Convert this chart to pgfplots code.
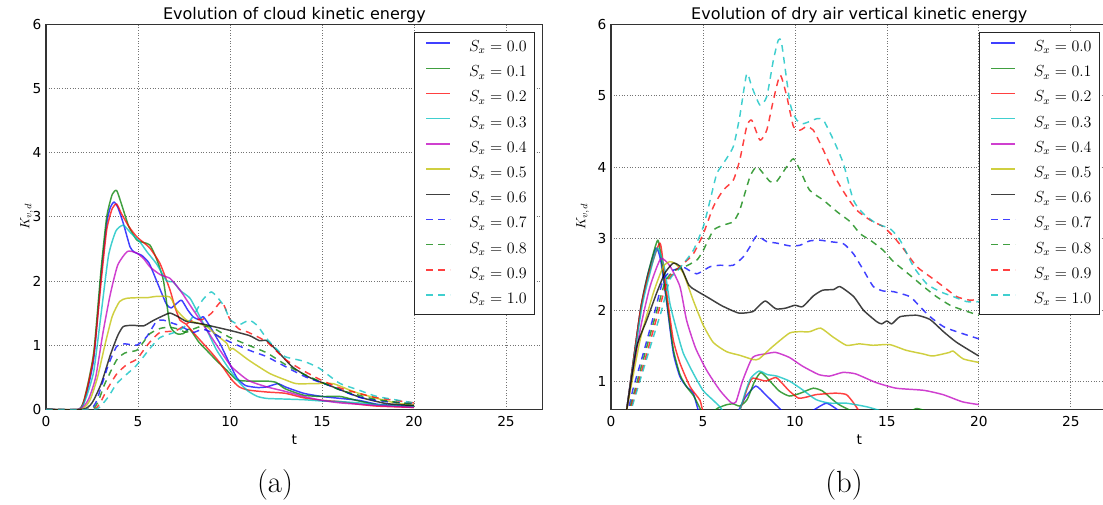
\documentclass[border=0pt]{standalone}
\usepackage{fontspec}
\usepackage{pgfplots}
\pgfplotsset{compat=1.18}
\newfontfamily\dejavu{DejaVu Sans}

\definecolor{mb}{rgb}{0,0,1}
\definecolor{mg}{rgb}{0,0.5,0}
\definecolor{mr}{rgb}{1,0,0}
\definecolor{mc}{rgb}{0,0.75,0.75}
\definecolor{mm}{rgb}{0.75,0,0.75}
\definecolor{my}{rgb}{0.75,0.75,0}
\definecolor{mk}{rgb}{0,0,0}

\tikzset{
  kline/.style={line width=1.1pt, draw opacity=0.75, smooth, tension=0.35, line join=round},
  kdash/.style={kline, dash pattern=on 5pt off 4pt},
}

\pgfplotsset{
  kinaxis/.style={
    scale only axis, height=288.75pt,
    xmin=0, xmax=27, ymax=6,
    xtick={0,5,...,25}, ytick={0,1,...,6},
    grid=major,
    grid style={black!55, line width=0.5pt, dash pattern=on 0.6pt off 1.4pt},
    major tick length=0pt,
    axis line style={black!80, line width=0.8pt},
    tick label style={font=\dejavu\fontsize{10.3}{12}\selectfont,
      /pgf/number format/assume math mode=true},
    xticklabel style={anchor=base, yshift=-12.5pt},
    yticklabel style={anchor=east, inner xsep=0pt, xshift=-3.2pt},
    title style={font=\dejavu\fontsize{12}{14}\selectfont, at={(0.5,1)},
      anchor=base, yshift=-2.25pt},
    xlabel={t},
    xlabel style={font=\dejavu\fontsize{10.3}{12}\selectfont, at={(0.5,0)},
      anchor=base, yshift=-26pt},
    legend style={at={(1,1)}, anchor=north east, xshift=-5.6pt, yshift=-6pt,
      draw=black!85, line width=0.8pt, inner xsep=6pt, inner ysep=1.5pt,
      column sep=13.5pt, font=\fontsize{12}{14}\selectfont,
      nodes={inner xsep=0pt, inner ysep=3.45pt, text height=9pt, text depth=3pt}},
    legend image code/.code={\path (-2.4pt,0pt); \draw[##1] (0pt,3.3pt) -- (18pt,3.3pt);},
    legend cell align=left,
  }
}

\begin{document}
\begin{tikzpicture}
% ---------- cloud kinetic energy ----------
\begin{axis}[kinaxis, at={(34.5pt,71pt)}, anchor=south west, width=372.6pt,
  ymin=0, title={Evolution of cloud kinetic energy}]
\addplot[kline, mb] coordinates {(0,0)(1.8,0)(2.2,0.25)(2.6,0.8)(3.0,2.1)(3.3,2.9)(3.5,3.15)(3.7,3.23)(3.9,3.15)(4.2,2.9)(4.57,2.53)(4.8,2.45)(5.2,2.4)(5.6,2.28)(6.0,2.01)(6.3,1.8)(6.56,1.63)(6.8,1.58)(7.1,1.65)(7.37,1.70)(7.7,1.55)(8.0,1.44)(8.3,1.40)(8.56,1.44)(9.0,1.25)(9.5,1.0)(10.0,0.7)(10.4,0.48)(10.85,0.37)(11.5,0.34)(12.0,0.35)(12.6,0.40)(13.0,0.35)(14.0,0.25)(15.0,0.2)(16.0,0.17)(17.0,0.14)(18.0,0.08)(19.0,0.06)(20.0,0.05)};
\addplot[kline, mg] coordinates {(0,0)(1.8,0)(2.2,0.3)(2.6,0.9)(3.0,2.2)(3.3,3.0)(3.6,3.35)(3.84,3.41)(4.1,3.2)(4.5,2.85)(4.93,2.64)(5.3,2.6)(5.65,2.56)(6.0,2.35)(6.38,2.01)(6.74,1.31)(7.1,1.18)(7.46,1.18)(7.8,1.25)(8.3,1.05)(8.73,0.92)(9.3,0.75)(9.82,0.61)(10.36,0.46)(11.0,0.44)(12.0,0.44)(12.5,0.42)(13.0,0.32)(14.0,0.22)(15.0,0.2)(16.0,0.2)(17.0,0.13)(18.0,0.07)(19.0,0.05)(20.0,0.04)};
\addplot[kline, mr] coordinates {(0,0)(1.8,0)(2.2,0.28)(2.6,0.85)(3.0,2.0)(3.3,2.8)(3.6,3.13)(3.84,3.20)(4.1,3.05)(4.5,2.85)(4.93,2.69)(5.3,2.6)(5.65,2.51)(6.2,2.27)(6.74,1.86)(7.0,1.6)(7.28,1.39)(7.6,1.33)(8.0,1.2)(8.37,1.08)(9.0,0.88)(9.46,0.72)(10.1,0.46)(10.5,0.35)(11.0,0.3)(12.0,0.27)(13.0,0.25)(14.0,0.18)(15.0,0.14)(16.0,0.12)(17.0,0.08)(18.0,0.05)(20.0,0.03)};
\addplot[kline, mc] coordinates {(0,0)(1.8,0)(2.2,0.2)(2.6,0.6)(3.0,1.5)(3.4,2.4)(3.8,2.78)(4.2,2.87)(4.6,2.75)(5.1,2.61)(5.5,2.45)(6.0,2.27)(6.56,2.0)(6.9,1.99)(7.3,1.85)(7.83,1.73)(8.37,1.44)(8.8,1.2)(9.28,0.92)(10.0,0.61)(10.5,0.42)(11.0,0.28)(11.5,0.2)(12.0,0.17)(13.0,0.16)(14.0,0.15)(15.0,0.13)(16.0,0.12)(17.0,0.1)(18.0,0.07)(20.0,0.05)};
\addplot[kline, mm] coordinates {(0,0)(1.8,0)(2.3,0.15)(2.7,0.5)(3.1,1.2)(3.5,1.8)(3.9,2.25)(4.42,2.46)(4.9,2.44)(5.3,2.35)(5.65,2.22)(6.2,2.1)(6.74,2.04)(7.28,1.86)(8.0,1.55)(8.73,1.24)(9.46,0.92)(10.1,0.66)(11.0,0.45)(12.0,0.35)(13.0,0.28)(14.0,0.2)(15.0,0.14)(16.0,0.1)(18.0,0.06)(20.0,0.03)};
\addplot[kline, my] coordinates {(0,0)(1.9,0)(2.4,0.15)(2.8,0.5)(3.2,1.0)(3.6,1.45)(4.0,1.68)(4.38,1.73)(5.0,1.74)(5.5,1.74)(6.0,1.76)(6.74,1.75)(7.1,1.55)(7.64,1.39)(8.2,1.35)(8.73,1.29)(9.3,1.15)(9.82,1.03)(10.0,0.92)(10.15,0.95)(11.05,0.76)(12.15,0.56)(13.0,0.46)(13.6,0.40)(14.5,0.40)(15.6,0.40)(16.5,0.3)(17.0,0.25)(18.0,0.17)(19.0,0.1)(20.0,0.07)};
\addplot[kline, mk] coordinates {(0,0)(2.0,0)(2.5,0.1)(3.0,0.4)(3.5,0.85)(3.9,1.15)(4.2,1.29)(4.7,1.31)(5.3,1.3)(5.8,1.38)(6.3,1.45)(6.74,1.50)(7.2,1.44)(7.64,1.37)(8.5,1.33)(9.1,1.29)(10.0,1.23)(11.05,1.15)(11.6,1.07)(12.0,1.07)(12.7,0.87)(13.4,0.66)(14.3,0.50)(15.6,0.35)(17.05,0.19)(18.5,0.09)(20.0,0.06)};
\addplot[kdash, mb] coordinates {(0,0)(2.3,0)(2.7,0.1)(3.0,0.35)(3.4,0.7)(3.84,0.98)(4.3,1.02)(4.93,1.0)(5.47,1.13)(6.0,1.37)(6.38,1.39)(6.9,1.34)(7.3,1.3)(8.0,1.2)(8.5,1.25)(9.0,1.2)(9.5,1.12)(10.0,1.05)(11.05,0.92)(12.0,0.82)(13.05,0.66)(14.15,0.50)(15.6,0.35)(17.0,0.19)(18.5,0.12)(20.0,0.09)};
\addplot[kdash, mg] coordinates {(0,0)(2.4,0)(2.8,0.1)(3.2,0.4)(3.84,0.77)(4.3,0.88)(4.93,0.92)(5.3,1.05)(5.65,1.18)(6.2,1.26)(6.7,1.28)(7.2,1.25)(7.6,1.2)(8.0,1.25)(8.5,1.3)(9.0,1.28)(9.5,1.2)(10.0,1.12)(11.0,1.0)(12.0,0.88)(13.0,0.7)(14.0,0.55)(15.0,0.42)(16.0,0.3)(17.0,0.22)(18.0,0.15)(20.0,0.08)};
\addplot[kdash, mr] coordinates {(0,0)(2.5,0)(2.9,0.08)(3.3,0.3)(3.84,0.55)(4.4,0.7)(4.93,0.78)(5.3,0.92)(5.65,1.05)(6.2,1.2)(7.0,1.22)(7.5,1.3)(8.0,1.4)(8.5,1.4)(9.0,1.5)(9.55,1.68)(10.0,1.4)(10.5,1.25)(11.0,1.2)(12.0,1.05)(13.0,0.78)(14.0,0.6)(15.0,0.45)(16.0,0.33)(17.0,0.25)(18.0,0.18)(20.0,0.1)};
\addplot[kdash, mc] coordinates {(0,0)(2.6,0)(3.0,0.06)(3.4,0.2)(3.84,0.4)(4.4,0.55)(4.9,0.68)(5.3,0.82)(5.65,0.95)(6.2,1.12)(7.0,1.2)(7.5,1.28)(8.0,1.45)(8.5,1.7)(8.97,1.83)(9.3,1.75)(9.7,1.6)(10.0,1.4)(10.5,1.32)(11.05,1.39)(11.5,1.3)(12.0,1.1)(12.5,0.95)(13.0,0.82)(14.0,0.75)(14.8,0.65)(15.5,0.5)(16.0,0.4)(17.0,0.3)(18.0,0.2)(20.0,0.1)};
\legend{$S_x=0.0$,$S_x=0.1$,$S_x=0.2$,$S_x=0.3$,$S_x=0.4$,$S_x=0.5$,$S_x=0.6$,$S_x=0.7$,$S_x=0.8$,$S_x=0.9$,$S_x=1.0$}
\end{axis}

% ---------- dry air vertical kinetic energy ----------
\begin{axis}[kinaxis, at={(458.25pt,71pt)}, anchor=south west, width=372.4pt,
  ymin=0.614, title={Evolution of dry air vertical kinetic energy}]
\addplot[kline, mb] coordinates {(0.8,0.5)(0.85,0.6)(1.6,2.0)(2.0,2.5)(2.45,2.87)(2.7,2.7)(3.03,2.1)(3.39,1.4)(3.75,1.07)(4.11,0.93)(4.47,0.84)(4.75,0.6)(5.0,0.5)(6.5,0.45)(6.9,0.58)(7.3,0.78)(7.87,0.94)(8.4,0.82)(9.15,0.63)(9.5,0.55)(10.5,0.5)(11.0,0.6)(11.7,0.70)(12.2,0.63)(12.6,0.55)(13,0.45)(20,0.3)};
\addplot[kline, mg] coordinates {(0.8,0.5)(0.85,0.6)(1.6,2.0)(2.0,2.5)(2.54,2.98)(2.8,2.6)(3.1,2.0)(3.39,1.45)(3.75,1.1)(4.11,0.93)(4.5,0.8)(4.8,0.65)(5.0,0.55)(5.4,0.55)(5.8,0.63)(6.3,0.68)(6.65,0.69)(7.0,0.66)(7.4,0.75)(7.8,1.0)(8.15,1.13)(8.6,1.02)(9.15,0.87)(9.7,0.80)(10.3,0.84)(11.0,0.91)(11.5,0.87)(12.0,0.76)(12.4,0.68)(13.0,0.6)(13.3,0.55)(14,0.45)(16,0.55)(16.6,0.625)(17.2,0.58)(17.5,0.5)(20,0.4)};
\addplot[kline, mr] coordinates {(0.8,0.5)(0.85,0.6)(1.6,2.0)(2.05,2.5)(2.66,2.94)(2.9,2.5)(3.1,2.1)(3.39,1.58)(3.75,1.26)(4.3,0.93)(4.84,0.74)(5.1,0.55)(6.5,0.45)(7.0,0.6)(7.4,0.9)(7.7,1.05)(8.4,1.01)(8.96,1.06)(9.3,0.98)(9.7,0.87)(10.2,0.77)(10.7,0.79)(11.15,0.82)(12.2,0.84)(12.8,0.82)(13.2,0.7)(13.6,0.55)(14,0.45)(20,0.3)};
\addplot[kline, mc] coordinates {(0.8,0.5)(0.85,0.6)(1.65,2.0)(2.1,2.5)(2.52,2.87)(2.9,2.6)(3.2,2.1)(3.57,1.72)(3.93,1.40)(4.47,1.12)(5.0,0.88)(5.56,0.74)(5.92,0.65)(6.2,0.55)(6.7,0.5)(7.0,0.6)(7.3,0.85)(7.6,1.05)(8.05,1.15)(8.5,1.1)(9.0,1.08)(9.7,1.01)(10.4,0.89)(11.15,0.75)(11.9,0.70)(12.8,0.70)(13.9,0.65)(14.8,0.58)(15.2,0.5)(20,0.35)};
\addplot[kline, mm] coordinates {(0.8,0.5)(0.85,0.6)(1.58,1.72)(2.12,2.33)(2.7,2.72)(3.2,2.62)(3.75,2.33)(4.11,1.86)(4.6,1.47)(5.2,1.16)(5.92,0.88)(6.47,0.72)(6.6,0.70)(6.8,0.72)(7.15,1.01)(7.7,1.34)(8.4,1.39)(8.96,1.41)(9.7,1.34)(10.4,1.22)(11.3,1.10)(11.9,1.08)(12.6,1.13)(13.3,1.11)(14.4,0.99)(15.5,0.91)(17.0,0.88)(18.05,0.82)(19.1,0.72)(20,0.68)};
\addplot[kline, my] coordinates {(0.8,0.5)(0.85,0.6)(1.58,1.58)(2.3,2.24)(2.84,2.61)(3.2,2.68)(3.5,2.65)(3.93,2.52)(4.47,2.14)(5.0,1.8)(5.56,1.55)(6.29,1.42)(7.0,1.37)(7.73,1.31)(8.05,1.32)(8.78,1.49)(9.7,1.68)(10.24,1.70)(10.8,1.70)(11.4,1.75)(12.05,1.63)(12.8,1.51)(13.5,1.53)(14.24,1.51)(15.15,1.52)(16.05,1.44)(16.96,1.39)(17.5,1.36)(18.4,1.41)(18.6,1.43)(19.15,1.32)(20,1.27)};
\addplot[kline, mk] coordinates {(0.8,0.5)(0.85,0.6)(1.4,1.49)(1.94,1.86)(2.48,2.24)(2.93,2.52)(3.39,2.66)(3.8,2.6)(4.24,2.35)(4.6,2.28)(5.33,2.17)(6.05,2.06)(6.96,1.96)(7.7,1.98)(8.0,2.05)(8.4,2.13)(8.96,2.02)(9.5,2.03)(10.0,2.07)(10.42,2.05)(11.0,2.2)(11.5,2.28)(12.1,2.29)(12.46,2.33)(13.2,2.19)(13.73,2.0)(14.45,1.84)(14.72,1.81)(15.0,1.85)(15.27,1.81)(15.72,1.91)(16.63,1.93)(17.35,1.87)(18.08,1.70)(18.8,1.55)(20,1.36)};
\addplot[kdash, mb] coordinates {(0.85,0.5)(0.95,0.61)(1.2,0.9)(1.76,1.4)(2.4,2.0)(2.84,2.43)(3.3,2.55)(3.93,2.6)(4.3,2.55)(4.66,2.51)(5.0,2.55)(5.39,2.61)(5.93,2.63)(6.65,2.63)(7.2,2.75)(7.56,2.89)(7.92,3.04)(8.47,2.96)(9.0,2.94)(9.74,2.90)(10.28,2.91)(10.8,2.97)(11.37,2.98)(11.9,2.96)(12.64,2.93)(13.18,2.79)(13.73,2.56)(14.27,2.33)(14.8,2.27)(15.36,2.26)(16.26,2.19)(16.8,2.05)(17.35,1.91)(18.08,1.77)(18.8,1.70)(20,1.60)};
\addplot[kdash, mg] coordinates {(0.9,0.5)(1.0,0.61)(1.85,1.4)(2.5,2.0)(2.95,2.4)(3.4,2.55)(3.93,2.6)(4.66,2.7)(5.02,2.84)(5.57,3.12)(6.1,3.19)(6.65,3.24)(7.0,3.4)(7.56,3.87)(7.92,4.01)(8.29,3.91)(8.65,3.8)(9.0,3.8)(9.56,4.01)(9.92,4.12)(10.28,3.96)(10.8,3.68)(11.55,3.54)(12.28,3.38)(13.0,3.24)(13.55,3.07)(14.1,2.98)(14.8,2.84)(15.36,2.68)(16.26,2.49)(17.0,2.33)(17.7,2.19)(18.44,2.07)(19.17,2.0)(20,1.93)};
\addplot[kdash, mr] coordinates {(0.95,0.5)(1.05,0.61)(1.95,1.4)(2.6,2.0)(3.05,2.4)(3.5,2.55)(3.93,2.65)(4.48,2.79)(5.02,3.07)(5.57,3.45)(6.1,3.68)(6.65,3.82)(7.0,4.1)(7.38,4.57)(7.65,4.66)(8.1,4.38)(8.47,4.52)(8.83,4.94)(9.2,5.29)(9.56,4.99)(9.92,4.57)(10.28,4.52)(10.64,4.57)(11.0,4.52)(11.55,4.24)(12.28,3.82)(12.82,3.59)(13.36,3.4)(14.1,3.26)(14.8,3.17)(15.36,3.03)(15.9,2.86)(16.63,2.61)(17.35,2.47)(18.08,2.33)(18.8,2.19)(19.53,2.14)(20,2.16)};
\addplot[kdash, mc] coordinates {(1.0,0.5)(1.1,0.61)(2.03,1.4)(2.75,2.0)(3.2,2.43)(3.6,2.55)(3.93,2.65)(4.48,2.84)(5.02,3.17)(5.39,3.54)(5.75,3.91)(6.1,4.05)(6.65,4.29)(7.0,4.71)(7.38,5.31)(7.65,5.13)(8.1,4.87)(8.47,4.99)(8.83,5.5)(9.1,5.78)(9.28,5.73)(9.74,4.89)(10.1,4.66)(10.46,4.61)(11.19,4.68)(11.55,4.66)(12.1,4.38)(12.64,4.05)(13.18,3.54)(13.73,3.35)(14.45,3.21)(15.18,3.14)(15.72,2.98)(16.45,2.61)(17.17,2.37)(17.9,2.26)(18.62,2.19)(19.35,2.12)(20,2.12)};
\legend{$S_x=0.0$,$S_x=0.1$,$S_x=0.2$,$S_x=0.3$,$S_x=0.4$,$S_x=0.5$,$S_x=0.6$,$S_x=0.7$,$S_x=0.8$,$S_x=0.9$,$S_x=1.0$}
\end{axis}

% axis labels and sub-captions
\node[rotate=90, font=\fontsize{10.3}{12}\selectfont] at (20pt,215.4pt) {$K_{v,d}$};
\node[rotate=90, font=\fontsize{10.3}{12}\selectfont] at (437pt,215.4pt) {$K_{v,d}$};
\node[font=\fontsize{23}{28}\selectfont] at (206.25pt,14pt) {(a)};
\node[font=\fontsize{23}{28}\selectfont] at (633pt,14pt) {(b)};

\pgfresetboundingbox
\path[use as bounding box] (0,0) rectangle (827.25pt,378pt);
\end{tikzpicture}
\end{document}
